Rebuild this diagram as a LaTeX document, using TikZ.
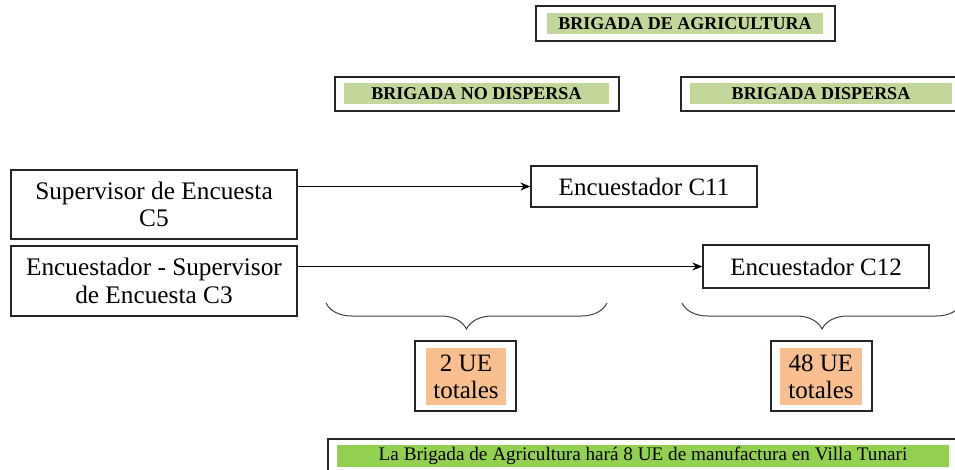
\documentclass[tikz,border=0pt]{standalone}
\usepackage{fontspec}
\setmainfont{Liberation Serif}
\usepackage{tikz}
\usetikzlibrary{arrows.meta,decorations.pathreplacing}

\definecolor{verdeclaro}{HTML}{C4D79B}
\definecolor{verde}{HTML}{92D050}
\definecolor{naranja}{HTML}{FABF8F}

\begin{document}
\begin{tikzpicture}[->,>={Stealth[length=10pt,width=8pt]}
  ,x=1pt,y=-1pt
  ,line width=1.1pt]
  \tikzstyle{marco}=[draw=black!85,line width=1.5pt,inner sep=0pt,-]
  \tikzstyle{titulo}=[fill=verdeclaro,inner sep=0pt,
  font=\fontsize{18}{20}\selectfont\bfseries]
  \tikzstyle{cargo}=[draw=black!85,line width=1.3pt,inner sep=0pt,align=center,
  font=\fontsize{25.3}{27.5}\selectfont]
  \tikzstyle{total}=[fill=naranja,inner sep=0pt,align=center,
  font=\fontsize{25}{27}\selectfont]

  \clip (0,0) rectangle (955,469);

  % titulos de brigada
  \node[marco,minimum width=299pt,minimum height=35pt] (agri) at (685.5,23.5) {};
  \node[titulo,minimum width=276pt,minimum height=21pt] (agrit) at (685,23.5)
  {BRIGADA DE AGRICULTURA};
  \node[marco,minimum width=284pt,minimum height=34pt] (nodisp) at (477,94) {};
  \node[titulo,minimum width=265pt,minimum height=21pt] (nodispt) at (476.5,93.5)
  {BRIGADA NO DISPERSA};
  \node[marco,minimum width=280pt,minimum height=34pt] (disp) at (821,94) {};
  \node[titulo,minimum width=262pt,minimum height=21pt] (dispt) at (821,93.5)
  {BRIGADA DISPERSA};

  % cargos
  \node[cargo,minimum width=286pt,minimum height=69pt] (sup) at (154,204.5)
  {Supervisor de Encuesta\\C5};
  \node[cargo,minimum width=286pt,minimum height=70pt] (encsup) at (154,281)
  {Encuestador - Supervisor\\de Encuesta C3};
  \node[cargo,minimum width=226pt,minimum height=41pt,font=\fontsize{25}{27}\selectfont]
  (c11) at (644,186.5) {Encuestador C11};
  \node[cargo,minimum width=226pt,minimum height=43pt,font=\fontsize{25}{27}\selectfont]
  (c12) at (816,266.5) {Encuestador C12};

  \path
  (sup.east |- c11.west) edge (c11.west)
  (encsup.east |- c12.west) edge (c12.west);

  % llaves
  \draw[-,line width=1pt,black!75,decorate,decoration={brace,mirror,amplitude=26pt}]
  (326,303) -- (607,303);
  \draw[-,line width=1pt,black!75,decorate,decoration={brace,mirror,amplitude=26pt}]
  (682,303) -- (962,303);

  % totales
  \node[marco,minimum width=101pt,minimum height=70pt] (tot2) at (465.5,376) {};
  \node[total,minimum width=80pt,minimum height=57pt] (tot2t) at (466,376.5)
  {2 UE\\totales};
  \node[marco,minimum width=101pt,minimum height=70pt] (tot48) at (821.5,376) {};
  \node[total,minimum width=82pt,minimum height=57pt] (tot48t) at (821,376.5)
  {48 UE\\totales};

  % nota final
  \node[marco,minimum width=637pt,minimum height=40pt] (nota) at (646.5,459) {};
  \node[fill=verde,inner sep=0pt,minimum width=612pt,minimum height=22pt,
  font=\fontsize{19.2}{21}\selectfont] (notat) at (643,456)
  {La Brigada de Agricultura hará 8 UE de manufactura en Villa Tunari};
\end{tikzpicture}
\end{document}
